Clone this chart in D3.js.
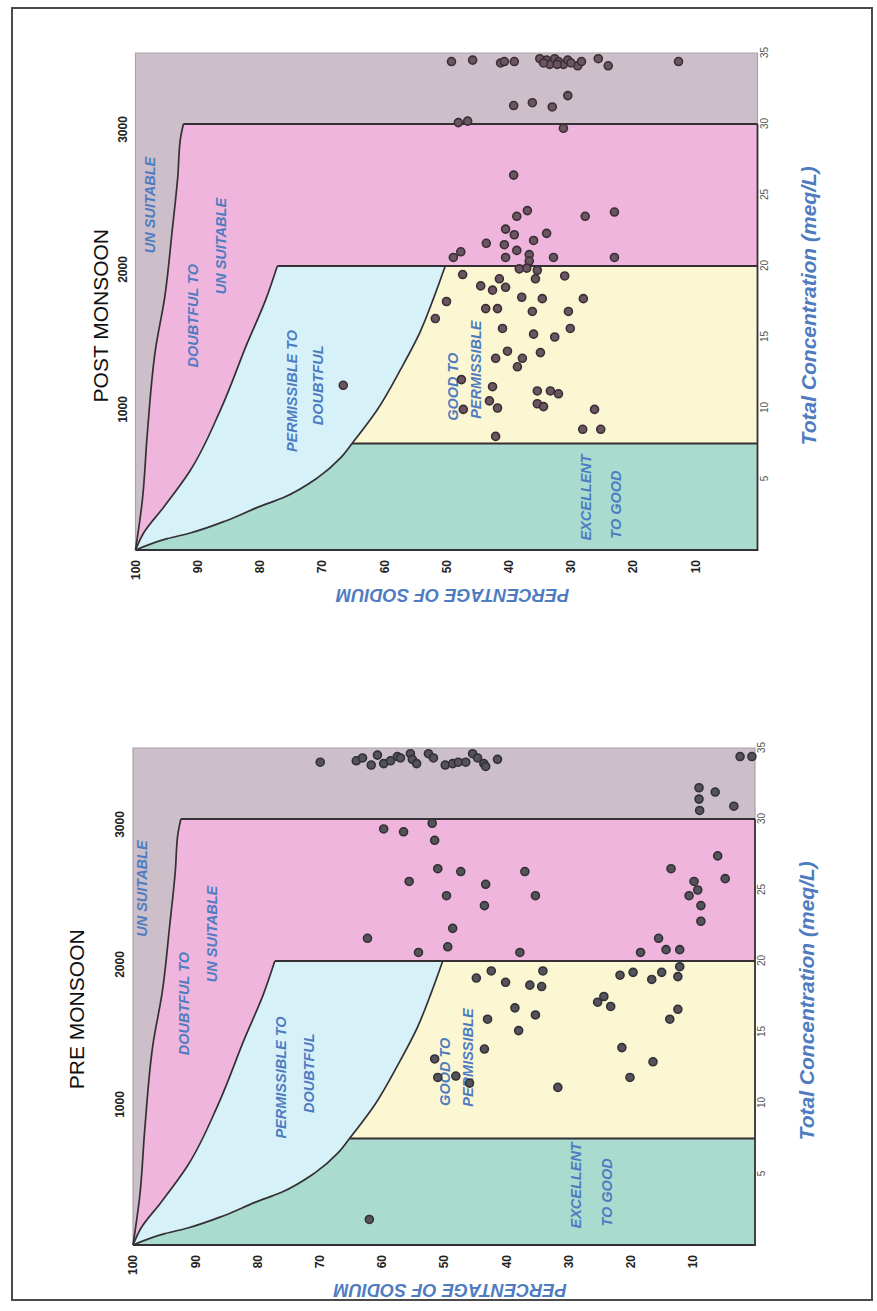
<!DOCTYPE html>
<html>
<head>
<meta charset="utf-8">
<script src="https://cdn.jsdelivr.net/npm/d3@7"></script>
<style>
  html, body { margin: 0; padding: 0; background: #ffffff; }
  svg { display: block; font-family: "Liberation Sans", Arial, Helvetica, sans-serif; }
</style>
</head>
<body>
<svg id="chart" width="877" height="1311"></svg>
<script>
// ---- axis ticks ----
const concTicks = [5, 10, 15, 20, 25, 30, 35];          // total concentration, meq/L
const ecTicks = [1000, 2000, 3000];                      // electrical conductivity
const sodiumTicks = [10, 20, 30, 40, 50, 60, 70, 80, 90, 100]; // % Na

// ---- Wilcox class limits, as [total concentration, % Na] ----
const unsuitableLimit = [[0, 100], [3.5, 98.9], [8.2, 98.1], [14.1, 96.8], [17.8, 95.3], [22.5, 94.1], [26.3, 93.2], [28.9, 92.8], [30, 92.3]];
const doubtfulLimit = [[0, 100], [1.2, 98.7], [3.0, 95.5], [5.6, 91.2], [9.9, 86.3], [14.6, 82.0], [17.7, 79.0], [20, 77.2]];
const excellentLimit = [[0, 100], [0.8, 94.9], [1.2, 91.2], [2.1, 85.2], [3.0, 80.4], [3.7, 76.2], [5.1, 70.7], [6.5, 67.0], [7.5, 65.2]];
const permissibleLimit = [[7.5, 65.2], [9.9, 61.1], [12.7, 57.4], [15.4, 54.2], [17.7, 52.1], [20, 50.2]];

// ---- samples, as [total concentration, % Na] ----
const postSamples = [
  [34.4, 49.2], [34.5, 45.8], [34.3, 41.3], [34.4, 40.7], [34.4, 39.1], [34.6, 35.0], [34.5, 33.9], [34.2, 33.4],
  [34.6, 32.6], [34.4, 32.0], [34.2, 31.2], [34.5, 30.5], [34.1, 28.9], [34.4, 28.3], [34.6, 25.6], [34.1, 24.0],
  [34.4, 12.7], [34.3, 34.4], [34.2, 32.2], [34.3, 30.0],
  [31.3, 39.2], [31.5, 36.2], [31.2, 33.0], [32.0, 30.5],
  [30.1, 48.1], [30.2, 46.6], [29.7, 31.2],
  [26.4, 39.2], [23.9, 37.0], [23.5, 38.7], [23.5, 27.7], [23.8, 23.0], [22.6, 40.5], [22.2, 39.1], [22.3, 33.9],
  [21.6, 43.6], [21.5, 40.7], [21.8, 36.0], [21.1, 38.7], [21.0, 47.7], [20.6, 48.9], [20.6, 40.5], [20.8, 36.7],
  [20.35, 36.7], [20.6, 32.8], [20.6, 23.0],
  [19.8, 38.3], [19.85, 37.1], [19.7, 35.4], [19.4, 47.4], [19.1, 41.5], [19.1, 35.7], [19.3, 31.0],
  [18.6, 44.5], [18.3, 42.6], [18.5, 40.5], [17.5, 50.0], [17.8, 37.9], [17.7, 34.6], [17.7, 28.0],
  [16.3, 51.8], [17.0, 43.7], [17.0, 41.8], [16.8, 36.2], [16.8, 30.4], [15.6, 41.0], [15.2, 36.0],
  [15.0, 32.6], [15.6, 30.1], [14.0, 40.2], [13.5, 37.8], [13.5, 42.1], [13.9, 34.9], [12.9, 38.6],
  [12.0, 47.6], [11.5, 42.6], [11.2, 35.4], [11.2, 33.3], [11.0, 32.0], [10.5, 43.1], [10.0, 41.8],
  [9.9, 47.3], [10.3, 35.4], [10.1, 34.4], [9.9, 26.2], [8.0, 42.1], [8.5, 28.1], [8.5, 25.2],
  [11.6, 66.6]
];
const preSamples = [
  [34.0, 69.9], [34.1, 64.1], [34.3, 63.1], [33.8, 61.7], [34.5, 60.7], [33.9, 59.7], [34.1, 58.6], [34.4, 57.5],
  [34.3, 57.0], [34.6, 55.4], [34.2, 55.1], [33.9, 54.4], [34.6, 52.5], [34.3, 51.7], [33.8, 49.8], [33.9, 48.6],
  [34.0, 47.7], [34.0, 46.5], [34.6, 45.4], [34.3, 44.6], [33.9, 43.6], [33.7, 43.3], [34.2, 41.4],
  [34.4, 2.4], [34.4, 0.5],
  [32.2, 9.0], [31.9, 6.4], [31.4, 9.0], [30.6, 8.9], [30.9, 3.4],
  [29.3, 59.7], [29.1, 56.5], [29.7, 51.9], [28.5, 51.5], [25.6, 55.6], [26.5, 51.0], [26.3, 47.3], [26.3, 37.0],
  [25.4, 43.3], [24.6, 49.6], [23.9, 43.5], [24.6, 35.3], [22.3, 48.6], [21.6, 62.3], [21.0, 49.4], [20.6, 54.1],
  [20.6, 37.8], [26.5, 13.5], [27.4, 6.0], [25.8, 4.8], [25.6, 9.8], [25.0, 9.2], [24.6, 10.6], [23.9, 8.7],
  [22.8, 8.7], [21.6, 15.5], [20.8, 14.3], [20.6, 18.4], [20.8, 12.1],
  [19.6, 12.1], [18.8, 44.8], [19.3, 42.4], [18.5, 40.1], [19.3, 34.1], [18.3, 36.2], [18.2, 34.3],
  [19.0, 21.7], [19.2, 19.6], [18.7, 16.6], [19.2, 15.0], [18.9, 12.4], [17.5, 24.3], [17.1, 25.3], [16.8, 23.2],
  [16.7, 38.6], [16.2, 35.3], [15.9, 43.0], [15.1, 38.0], [16.6, 12.4], [15.9, 13.7], [13.8, 43.5], [13.9, 21.4],
  [13.1, 51.5], [11.8, 51.0], [11.9, 48.1], [11.4, 45.9], [11.1, 31.7], [11.8, 20.1], [12.9, 16.4],
  [1.8, 62.0]
];

// ---- zone captions ----
const zoneText = ["UN SUITABLE", "DOUBTFUL TO", "UN SUITABLE", "PERMISSIBLE TO", "DOUBTFUL", "GOOD TO", "PERMISSIBLE", "EXCELLENT", "TO GOOD"];

// ---- layout ----
const W = 497;   // length of the concentration axis
const H = 622;   // length of the sodium axis
const colors = {
  unsuitable: "#ccbfc9",
  doubtful: "#f0b5dc",
  permissible: "#d6f2f8",
  good: "#fcf7d3",
  excellent: "#a9dbcf",
  edge: "#343034",
  caption: "#4f7cc1"
};

const panels = [
  {
    title: "POST MONSOON", left: 135.5, bottom: 550, titleAt: [16.5, -35],
    dotFill: "#6a5560", dotStroke: "#3b2e35",
    captionAt: [[24.3, 97.6], [16.5, 90.7], [21.4, 86.2], [11.2, 74.9], [11.6, 70.6], [11.5, 49.0], [12.7, 45.2], [3.7, 27.5], [3.2, 22.7]],
    samples: postSamples
  },
  {
    title: "PRE MONSOON", left: 133, bottom: 1245, titleAt: [16.6, -57],
    dotFill: "#55535a", dotStroke: "#323036",
    captionAt: [[25.1, 98.6], [17.0, 91.8], [21.9, 87.3], [11.8, 76.2], [12.1, 71.7], [12.2, 49.9], [13.2, 46.2], [4.2, 28.8], [3.7, 23.8]],
    samples: preSamples
  }
];

const svg = d3.select("#chart");

// outer frame
svg.append("rect")
  .attr("x", 12).attr("y", 8).attr("width", 860).attr("height", 1292)
  .attr("fill", "none").attr("stroke", "#4a4a4a").attr("stroke-width", 2);

const x = d3.scaleLinear().domain([0, 35]).range([0, W]);
const y = d3.scaleLinear().domain([0, 100]).range([H, 0]);
const ec = d3.scaleLinear().domain([0, 3550]).range([0, W]);

const line = d3.line().x(d => x(d[0])).y(d => y(d[1])).curve(d3.curveMonotoneX);
const poly = d3.line().x(d => x(d[0])).y(d => y(d[1]));

function drawPanel(p) {
  // the diagram is laid out with concentration across and % Na upward, then turned a quarter
  const g = svg.append("g").attr("transform", `translate(${p.left},${p.bottom}) rotate(-90)`);

  // zones
  g.append("rect").attr("width", W).attr("height", H).attr("fill", colors.unsuitable);
  g.append("path").attr("d", poly([...unsuitableLimit, [30, 0], [0, 0]]) + "Z").attr("fill", colors.doubtful);
  g.append("path").attr("d", poly([...doubtfulLimit, [20, 0], [0, 0]]) + "Z").attr("fill", colors.permissible);
  g.append("path").attr("d", poly([...permissibleLimit, [20, 0], [7.5, 0]]) + "Z").attr("fill", colors.good);
  g.append("path").attr("d", poly([...excellentLimit, [7.5, 0], [0, 0]]) + "Z").attr("fill", colors.excellent);

  // plot edges: light on the open sides
  g.append("path").attr("d", poly([[0, 100], [35, 100], [35, 0], [30, 0]]))
    .attr("fill", "none").attr("stroke", "#a9a3a8").attr("stroke-width", 1.2);

  // class limits
  const edges = [unsuitableLimit, doubtfulLimit, excellentLimit, permissibleLimit];
  edges.forEach(e => g.append("path").attr("d", line(e))
    .attr("fill", "none").attr("stroke", colors.edge).attr("stroke-width", 1.7));
  const straight = [
    [unsuitableLimit[unsuitableLimit.length - 1], [30, 0]],
    [[20, doubtfulLimit[doubtfulLimit.length - 1][1]], [20, 0]],
    [[7.5, excellentLimit[excellentLimit.length - 1][1]], [7.5, 0]],
    [[0, 100], [0, 0], [30, 0]]
  ];
  straight.forEach(s => g.append("path").attr("d", poly(s))
    .attr("fill", "none").attr("stroke", colors.edge).attr("stroke-width", 1.8));

  // zone captions
  g.append("g").selectAll("text").data(zoneText).join("text")
    .attr("x", (d, i) => x(p.captionAt[i][0]))
    .attr("y", (d, i) => y(p.captionAt[i][1]))
    .attr("text-anchor", "middle").attr("dominant-baseline", "central")
    .attr("font-size", 14.5).attr("font-weight", "bold").attr("font-style", "italic")
    .attr("fill", colors.caption)
    .text(d => d);

  // samples
  g.append("g").selectAll("circle").data(p.samples).join("circle")
    .attr("cx", d => x(d[0])).attr("cy", d => y(d[1])).attr("r", 4)
    .attr("fill", p.dotFill).attr("stroke", p.dotStroke).attr("stroke-width", 1.6);

  // concentration axis
  const ax1 = g.append("g").attr("transform", `translate(0,${H})`)
    .call(d3.axisBottom(x).tickValues(concTicks).tickSize(0).tickPadding(3));
  ax1.select(".domain").remove();
  ax1.selectAll("text").attr("font-size", 10).attr("fill", "#555");

  // conductivity axis
  const ax2 = g.append("g")
    .call(d3.axisTop(ec).tickValues(ecTicks).tickFormat(d3.format("d")).tickSize(0).tickPadding(9));
  ax2.select(".domain").remove();
  ax2.selectAll("text").attr("font-size", 12).attr("font-weight", "bold").attr("fill", "#222");

  // sodium axis
  const ax3 = g.append("g")
    .call(d3.axisLeft(y).tickValues(sodiumTicks).tickSize(0).tickPadding(10));
  ax3.select(".domain").remove();
  ax3.selectAll("text").attr("font-size", 12).attr("font-weight", "bold").attr("fill", "#222");

  // axis titles
  g.append("text")
    .attr("transform", `translate(-45,${y(49)}) rotate(-90)`)
    .attr("text-anchor", "middle").attr("dominant-baseline", "central")
    .attr("font-size", 19).attr("font-weight", "bold").attr("font-style", "italic")
    .attr("fill", colors.caption)
    .attr("textLength", 233).attr("lengthAdjust", "spacingAndGlyphs")
    .text("PERCENTAGE OF SODIUM");

  g.append("text")
    .attr("x", x(17.2)).attr("y", H + 51)
    .attr("text-anchor", "middle").attr("dominant-baseline", "central")
    .attr("font-size", 21).attr("font-weight", "bold").attr("font-style", "italic")
    .attr("fill", colors.caption)
    .text("Total Concentration (meq/L)");

  // panel title
  g.append("text")
    .attr("x", x(p.titleAt[0])).attr("y", p.titleAt[1])
    .attr("text-anchor", "middle").attr("dominant-baseline", "central")
    .attr("font-size", 21).attr("fill", "#111")
    .text(p.title);
}

panels.forEach(drawPanel);
</script>
</body>
</html>
